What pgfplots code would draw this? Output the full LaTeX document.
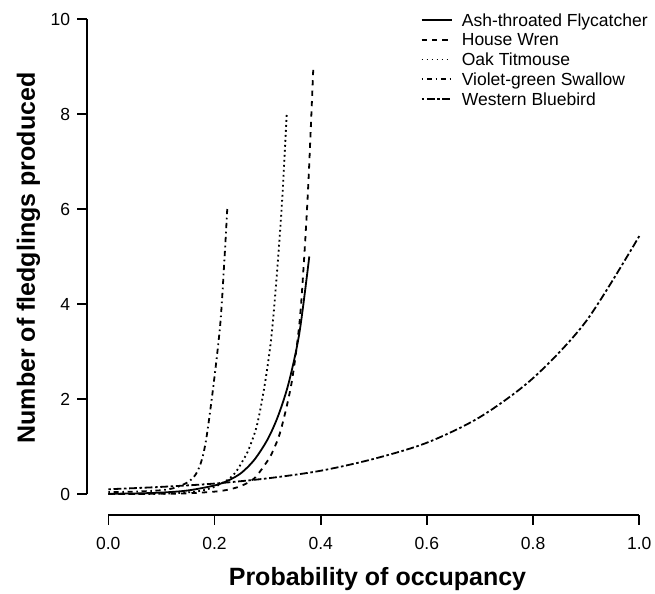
\documentclass[border=0pt]{standalone}
\usepackage{pgfplots}
\pgfplotsset{compat=1.18}
\usepackage{fontspec}
\setmainfont{Liberation Sans}

\tikzset{
  atfl/.style={black, line width=1.8bp, solid},
  howr/.style={black, line width=1.8bp, dash pattern=on 5.2bp off 5.2bp},
  oati/.style={black, line width=1.8bp, dash pattern=on 1.8bp off 3.2bp},
  vgsw/.style={black, line width=1.8bp, dash pattern=on 1.6bp off 3.6bp on 5.2bp off 3.6bp},
  webl/.style={black, line width=1.8bp, dash pattern=on 2.6bp off 2.6bp on 7.8bp off 2.6bp},
  ticklab/.style={font=\fontsize{17.5bp}{21bp}\selectfont, inner sep=0pt},
}

\begin{document}
\begin{tikzpicture}
\begin{axis}[
  scale only axis,
  width=655bp, height=594bp,
  xmin=-0.204, xmax=1.0296,
  ymin=-2.105, ymax=10.4,
  axis line style={draw=none},
  xtick=\empty, ytick=\empty,
  clip=false,
  xlabel={Probability of occupancy},
  ylabel={Number of fledglings produced},
  label style={font=\fontsize{25bp}{30bp}\selectfont\bfseries, inner sep=0pt},
  xlabel style={at={(axis description cs:0.5763,0.01515)}, anchor=base},
  ylabel style={at={(axis description cs:0.0534,0.5657)}, anchor=base},
]

% Ash-throated Flycatcher
\addplot[atfl, smooth] coordinates {
(0,0.005) (0.05,0.012) (0.1,0.03) (0.15,0.075) (0.2,0.18) (0.225,0.28)
(0.25,0.44) (0.275,0.72) (0.3,1.15) (0.32,1.65) (0.34,2.35) (0.36,3.4) (0.3785,5.0)
};
% House Wren
\addplot[howr, smooth] coordinates {
(0,0.0) (0.1,0.005) (0.15,0.015) (0.2,0.05) (0.225,0.09) (0.25,0.17) (0.275,0.33)
(0.3,0.7) (0.311,0.93) (0.325,1.35) (0.345,2.33) (0.36,3.6) (0.369,5.0) (0.377,6.6) (0.386,8.95)
};
% Oak Titmouse
\addplot[oati, smooth] coordinates {
(0,0.0) (0.1,0.005) (0.15,0.035) (0.175,0.07) (0.2,0.15) (0.225,0.3) (0.24,0.46)
(0.254,0.716) (0.264,0.93) (0.28,1.45) (0.295,2.33) (0.308,3.4) (0.32,5.0) (0.328,6.3) (0.336,8.0)
};
% Violet-green Swallow
\addplot[vgsw, smooth] coordinates {
(0,0.04) (0.05,0.05) (0.1,0.08) (0.125,0.13) (0.15,0.25) (0.165,0.42) (0.176,0.716)
(0.185,1.2) (0.1985,2.33) (0.211,3.6) (0.219,5.0) (0.224,6.0)
};
% Western Bluebird
\addplot[webl, smooth] coordinates {
(0,0.10) (0.1,0.15) (0.2,0.22) (0.3,0.33) (0.4,0.49) (0.5,0.74) (0.6,1.08)
(0.7,1.62) (0.8,2.44) (0.9,3.64) (1.0,5.43)
};

% detached axes
\draw[line width=1.6bp] (axis cs:0,-0.44) -- (axis cs:1,-0.44);
\draw[line width=1.6bp] (axis cs:-0.04,0) -- (axis cs:-0.04,10);
\pgfplotsinvokeforeach{0.0,0.2,0.4,0.6,0.8,1.0}{
  \draw[line width=1.6bp] (axis cs:#1,-0.44) -- (axis cs:#1,-0.6505);
  \node[ticklab, anchor=base] at ([yshift=-34.7bp]axis cs:#1,-0.44) {#1};
}
\pgfplotsinvokeforeach{0,2,4,6,8,10}{
  \draw[line width=1.6bp] (axis cs:-0.04,#1) -- (axis cs:-0.0588,#1);
  \node[ticklab, anchor=base east] at ([xshift=-16.7bp,yshift=-6.3bp]axis cs:-0.04,#1) {#1};
}

% legend
\draw[atfl] (axis cs:0.5902,9.983) -- (axis cs:0.6467,9.983);
\node[ticklab, anchor=base west] at (axis cs:0.6655,9.851) {Ash-throated Flycatcher};
\draw[howr] (axis cs:0.5902,9.566) -- (axis cs:0.6467,9.566);
\node[ticklab, anchor=base west] at (axis cs:0.6655,9.434) {House Wren};
\draw[oati] (axis cs:0.5902,9.149) -- (axis cs:0.6467,9.149);
\node[ticklab, anchor=base west] at (axis cs:0.6655,9.017) {Oak Titmouse};
\draw[vgsw] (axis cs:0.5902,8.733) -- (axis cs:0.6467,8.733);
\node[ticklab, anchor=base west] at (axis cs:0.6655,8.600) {Violet-green Swallow};
\draw[webl] (axis cs:0.5902,8.316) -- (axis cs:0.6467,8.316);
\node[ticklab, anchor=base west] at (axis cs:0.6655,8.183) {Western Bluebird};

\path (rel axis cs:0,0) rectangle (rel axis cs:1,1);
\end{axis}
\end{tikzpicture}
\end{document}
